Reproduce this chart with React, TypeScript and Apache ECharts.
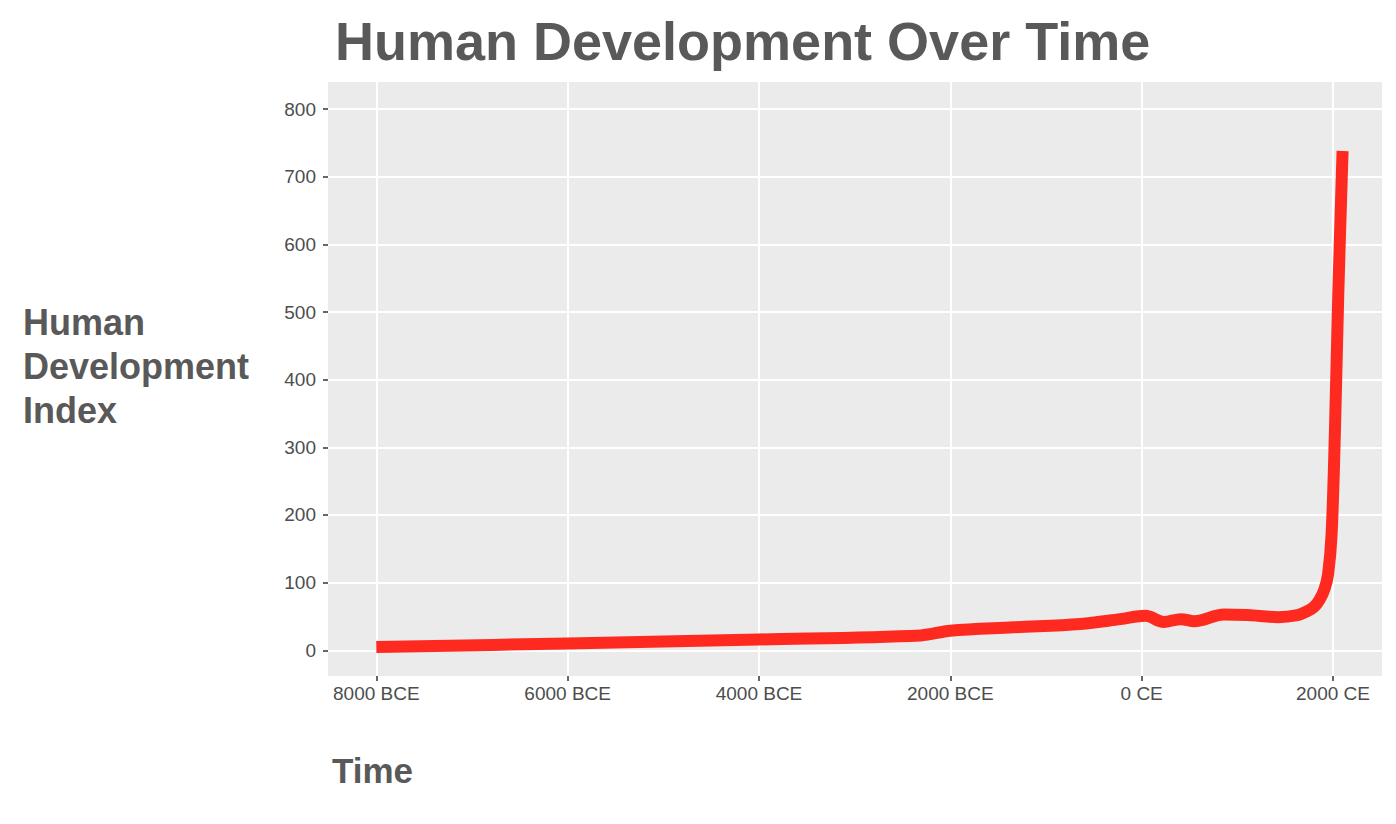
import React, { useEffect, useRef } from "react";
import * as echarts from "echarts";

const years = [-8000, -6000, -4000, -2310, -2000, -1340, -640, -225, 40, 230, 410, 550, 860, 1110, 1425, 1630, 1720, 1800, 1860, 1910, 1948, 1985, 2020, 2055, 2100];
const values = [5, 10, 16, 22, 29, 34, 39, 46, 51, 42, 46, 43, 53, 52, 49, 52, 57, 64, 75, 90, 112, 171, 324, 527, 738];
const xTicks = [-8000, -6000, -4000, -2000, 0, 2000];
const yTicks = [0, 100, 200, 300, 400, 500, 600, 700, 800];

const titleText = "Human Development Over Time";
const xTitle = "Time";
const yTitle = "Human\nDevelopment\nIndex";

const fmtYear = (v: number) => (v < 0 ? `${-v} BCE` : `${v} CE`);

export default function App() {
  const ref = useRef<HTMLDivElement>(null);
  useEffect(() => {
    if (!ref.current) return;
    const chart = echarts.init(ref.current, null, { renderer: "svg" });
    const font = "'Liberation Sans', Helvetica, Arial, sans-serif";
    chart.setOption({
      animation: false,
      backgroundColor: "#ffffff",
      textStyle: { fontFamily: font },
      title: {
        text: titleText,
        left: 330,
        top: 9,
        textStyle: { fontSize: 54, fontWeight: "bold", color: "#595959", fontFamily: font },
      },
      graphic: [
        {
          type: "text",
          left: 23,
          top: 300,
          style: { text: yTitle, font: `bold 36px ${font}`, fill: "#595959", lineHeight: 44 },
        },
        {
          type: "text",
          left: 332,
          top: 753,
          style: { text: xTitle, font: `bold 35px ${font}`, fill: "#595959" },
        },
      ],
      grid: { left: 328, top: 82, right: 14, bottom: 148, show: true, backgroundColor: "#EBEBEB", borderWidth: 0 },
      xAxis: {
        type: "value",
        min: -8505,
        max: 2512,
        axisLine: { show: false, onZero: false },
        axisTick: { show: true, length: 5, lineStyle: { color: "#333333", width: 1.5 }, customValues: xTicks },
        axisLabel: {
          customValues: xTicks,
          formatter: (v: number) => fmtYear(v),
          color: "#4D4D4D",
          fontSize: 19,
          margin: 8,
          fontFamily: font,
        },
        splitLine: { show: true, lineStyle: { color: "#ffffff", width: 2 } },
      },
      yAxis: {
        type: "value",
        min: -38,
        max: 840,
        axisLine: { show: false, onZero: false },
        axisTick: { show: true, length: 5, lineStyle: { color: "#333333", width: 1.5 }, customValues: yTicks },
        axisLabel: { customValues: yTicks, color: "#4D4D4D", fontSize: 19, margin: 12, fontFamily: font },
        splitLine: { show: true, lineStyle: { color: "#ffffff", width: 2 } },
      },
      series: [
        {
          type: "line",
          data: years.map((y, i) => [y, values[i]]),
          showSymbol: false,
          smooth: 0.35,
          lineStyle: { color: "#FF2A1F", width: 12, cap: "butt", join: "round" },
          silent: true,
        },
      ],
    });
    return () => chart.dispose();
  }, []);
  return <div ref={ref} style={{ width: 1396, height: 824, position: "absolute", left: 0, top: 0 }} />;
}
